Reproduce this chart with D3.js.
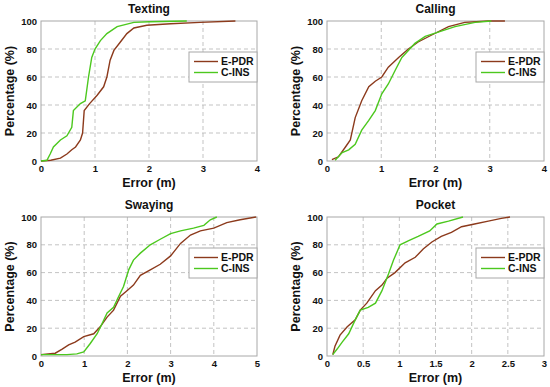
<!DOCTYPE html>
<html>
<head>
<meta charset="utf-8">
<script src="https://cdn.jsdelivr.net/npm/d3@7"></script>
<style>
  body { margin: 0; background: #fff; }
  text { font-family: "Liberation Sans", Arial, sans-serif; font-weight: bold; fill: #111; }
</style>
</head>
<body>
<div id="container"></div>
<script>
// error (m), percentage (%) pairs
let texting_pdr = [[0,0],[0.18,0.5],[0.36,2],[0.48,5],[0.57,8],[0.64,10],[0.73,15],[0.77,20],[0.8,36],[0.9,41],[1.04,47],[1.16,53],[1.22,60],[1.28,72],[1.35,79],[1.47,85],[1.59,91],[1.72,95],[1.96,97],[2.4,98],[2.95,99],[3.6,100]]
let texting_ins = [[0,0],[0.11,0.5],[0.17,5],[0.23,10],[0.36,15],[0.48,18],[0.57,24],[0.6,36],[0.73,41],[0.82,43],[0.88,60],[0.94,74],[1.0,80],[1.1,86],[1.22,91],[1.41,96],[1.72,99],[2.0,99.5],[2.7,100]]
let calling_pdr = [[0.09,1],[0.21,3],[0.34,10],[0.43,15],[0.52,31],[0.64,43],[0.77,53],[0.89,57],[1.01,60],[1.13,67],[1.32,74],[1.5,80],[1.68,85],[1.93,90],[2.24,96],[2.54,99],[2.97,100],[3.28,100]]
let calling_ins = [[0.15,0.5],[0.28,6],[0.4,8],[0.52,12],[0.64,22],[0.77,29],[0.89,36],[1.01,48],[1.13,55],[1.26,65],[1.38,74],[1.5,79],[1.62,84],[1.81,89],[2.05,92],[2.36,96],[2.73,99],[3.03,100]]
let swaying_pdr = [[0,1],[0.33,2],[0.49,5],[0.64,8],[0.79,10],[0.99,14],[1.22,16],[1.37,21],[1.53,28],[1.68,33],[1.84,43],[1.99,47],[2.14,51],[2.3,58],[2.53,62],[2.76,66],[3.0,72],[3.23,81],[3.46,87],[3.69,90],[4.0,92],[4.3,96],[4.61,98],[4.98,100]]
let swaying_ins = [[0,1],[0.6,1],[0.83,1.5],[0.99,3],[1.14,9],[1.3,16],[1.41,23],[1.53,31],[1.68,35],[1.8,43],[1.91,50],[2.03,62],[2.14,69],[2.3,74],[2.53,80],[2.76,84],[3.0,88],[3.23,90],[3.53,92],[3.77,94],[3.92,98],[4.07,100]]
let pocket_pdr = [[0.08,1],[0.11,7],[0.18,15],[0.28,21],[0.39,26],[0.46,33],[0.55,38],[0.67,47],[0.76,51],[0.83,56],[0.94,60],[1.08,67],[1.22,71],[1.33,77],[1.45,82],[1.58,86],[1.72,89],[1.86,93],[2.04,95],[2.23,97],[2.41,99],[2.53,100]]
let pocket_ins = [[0.08,1],[0.14,5],[0.21,10],[0.3,16],[0.39,26],[0.46,33],[0.57,35],[0.67,38],[0.76,47],[0.85,59],[0.92,69],[1.01,80],[1.13,83],[1.26,86],[1.42,90],[1.52,95],[1.68,97],[1.88,100]]

let titles = ['Texting', 'Calling', 'Swaying', 'Pocket']
let x_max = [4, 4, 5, 3]
let x_ticks = [[0,1,2,3,4], [0,1,2,3,4], [0,1,2,3,4,5], [0,0.5,1,1.5,2,2.5,3]]
let y_ticks = [0, 20, 40, 60, 80, 100]
let series_names = ['E-PDR', 'C-INS']
let colors = ['#8c3a1c', '#4cc81e']
let panel_data = [
  [texting_pdr, texting_ins],
  [calling_pdr, calling_ins],
  [swaying_pdr, swaying_ins],
  [pocket_pdr, pocket_ins]
]

let width = 550, height = 387
// plot boxes: left, top, right, bottom
let boxes = [
  [41, 21, 257, 161],
  [327, 21, 544, 161],
  [41, 217, 257, 356],
  [327, 217, 544, 356]
]

let svg = d3.select('#container')
  .append('svg')
  .attr('width', width)
  .attr('height', height)

boxes.forEach(function (b, p) {
  let scale_x = d3.scaleLinear().domain([0, x_max[p]]).range([b[0], b[2]])
  let scale_y = d3.scaleLinear().domain([0, 100]).range([b[3], b[1]])
  let g = svg.append('g')

  // grid
  g.selectAll('.gx').data(x_ticks[p].slice(1, -1)).enter().append('line')
    .attr('x1', d => scale_x(d)).attr('x2', d => scale_x(d))
    .attr('y1', b[1]).attr('y2', b[3])
    .attr('stroke', '#b4b4b4').attr('stroke-dasharray', '4,3').attr('stroke-width', 0.8)
  g.selectAll('.gy').data(y_ticks.slice(1, -1)).enter().append('line')
    .attr('x1', b[0]).attr('x2', b[2])
    .attr('y1', d => scale_y(d)).attr('y2', d => scale_y(d))
    .attr('stroke', '#b4b4b4').attr('stroke-dasharray', '4,3').attr('stroke-width', 0.8)

  // frame
  g.append('rect')
    .attr('x', b[0]).attr('y', b[1])
    .attr('width', b[2] - b[0]).attr('height', b[3] - b[1])
    .attr('fill', 'none').attr('stroke', '#a8a8a8').attr('stroke-width', 1)

  // axes
  let x_axis = d3.axisBottom(scale_x).tickValues(x_ticks[p]).tickSize(0).tickPadding(4)
    .tickFormat(d3.format('~g'))
  let y_axis = d3.axisLeft(scale_y).tickValues(y_ticks).tickSize(0).tickPadding(4)
  let gx = g.append('g').attr('transform', 'translate(0,' + b[3] + ')').call(x_axis)
  let gy = g.append('g').attr('transform', 'translate(' + b[0] + ',0)').call(y_axis)
  gx.select('.domain').remove()
  gy.select('.domain').remove()
  g.selectAll('.tick text').attr('font-size', 9.5).attr('font-weight', 'bold')
    .attr('font-family', '"Liberation Sans", Arial, sans-serif').attr('fill', '#111')

  // curves
  let line_generator = d3.line()
    .x(d => scale_x(d[0]))
    .y(d => scale_y(d[1]))
  panel_data[p].forEach(function (s, i) {
    g.append('path')
      .attr('d', line_generator(s))
      .attr('fill', 'none')
      .attr('stroke', colors[i])
      .attr('stroke-width', 1.4)
  })

  // labels
  let cx = (b[0] + b[2]) / 2
  g.append('text').attr('x', cx).attr('y', b[1] - 8)
    .attr('text-anchor', 'middle').attr('font-size', 12).text(titles[p])
  g.append('text').attr('x', cx).attr('y', b[3] + 26)
    .attr('text-anchor', 'middle').attr('font-size', 12.5).text('Error (m)')
  g.append('text')
    .attr('transform', 'translate(' + (b[0] - 27) + ',' + ((b[1] + b[3]) / 2) + ') rotate(-90)')
    .attr('text-anchor', 'middle').attr('font-size', 12.5).text('Percentage (%)')

  // legend
  let lx = b[2] - 68, ly = b[1] + 31
  let leg = g.append('g').attr('transform', 'translate(' + lx + ',' + ly + ')')
  leg.append('rect').attr('width', 68).attr('height', 30)
    .attr('fill', '#fff').attr('stroke', '#a8a8a8').attr('stroke-width', 1)
  series_names.forEach(function (n, i) {
    leg.append('line').attr('x1', 5).attr('x2', 29)
      .attr('y1', 9.5 + i * 11).attr('y2', 9.5 + i * 11)
      .attr('stroke', colors[i]).attr('stroke-width', 1.4)
    leg.append('text').attr('x', 32).attr('y', 13.3 + i * 11)
      .attr('font-size', 10.5).text(n)
  })
})
</script>
</body>
</html>
